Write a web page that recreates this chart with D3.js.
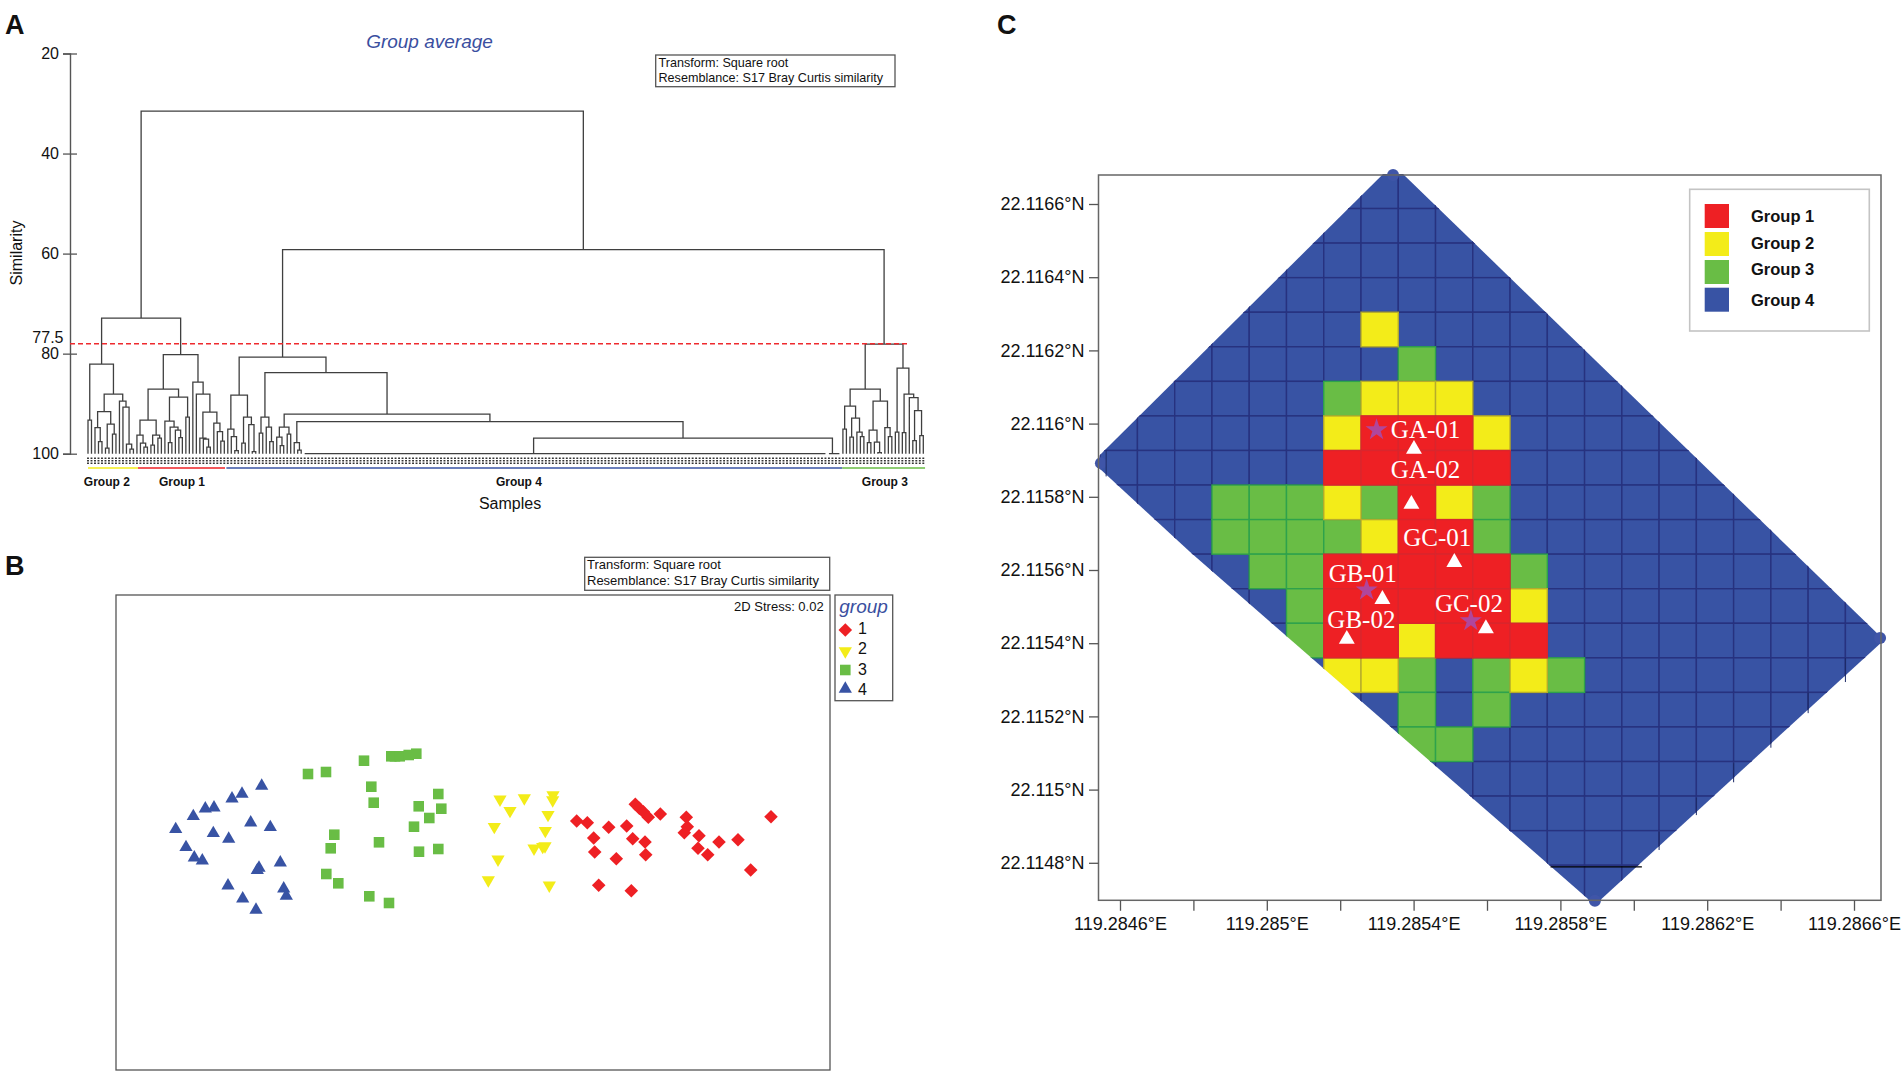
<!DOCTYPE html>
<html>
<head>
    <meta charset="utf-8" />
    <title>Similarity groups</title>
    <style>
    body { margin: 0; background: #fff; }
    text { font-family: "Liberation Sans", Arial, sans-serif; fill: #111; }
    </style>
</head>
<body>
<script src="https://d3js.org/d3.v7.min.js"></script>
<script>
    // dendrogram: [similarity, left, right], a number is that many identical samples
    var group2Tree = [82.1,
        [93.3, 1, 1],
        [88.1,
            [91.6, [94.8, 1, [97.6, 1, 1]], [94.1, [98.9, 1, 1], [96.1, 1, 1]]],
            [89.5, 1, [90.7, 1, [98.1, 1, [99.1, 1, 1]]]]]];
    var group1Tree = [80.2,
        [87.1,
            [93.3,
                [96.3, 1, [97.9, 1, [98.7, 1, 1]]],
                [96.3, [98.3, 1, 1], [96.9, 1, 1]]],
            [88.7,
                [93.5, 1, [94.7, [97.8, 1, 1], [95.3, 1, [96.8, 1, 1]]]],
                [92.7, 1, 1]]],
        [85.7, 1,
            [88.1, 1,
                [91.7,
                    [96.9, 1, [97.1, 1, [98.7, 1, 1]]],
                    [93.9, 1, [95.6, 1, [97.5, 1, 1]]]]]]];
    var group4Tree = [80.7,
        [88.3,
            [95.1, 1, [96.6, 1, [99.4, 1, 1]]],
            [92.7, [97.9, 1, 1], [94.2, 1, [99.6, 1, 1]]]],
        [83.8,
            [92.7, [95.9, 1, 1], [94.7, 1, [97.6, 1, 1]]],
            [92.1,
                [94.7, [96.7, 1, [98.4, 1, 1]], [96.1, 1, 1]],
                [93.6,
                    [97.8, 1, [99.3, 1, 1]],
                    [96.9, [100, 57, 93], [100, 1, 3]]]]]];
    var group3Tree = [78.1,
        [87.1,
            [90.5,
                [95.1, 1, 1],
                [92.9, [96.7, 1, 1], [95.7, 1, [96.6, 1, 1]]]],
            [89.5,
                [95.3, [97.8, 1, 1], [97.7, 1, [99.8, 1, 1]]],
                [94.8, 1, [96.6, 1, 1]]]],
        [82.9,
            [95.7, 1, 1],
            [88.1,
                [95.8, 1, 1],
                [88.8, 1, [91.4, [97.4, 1, 1], [96.4, 1, 1]]]]]];
    var rootTree = [31.5, [72.9, group2Tree, group1Tree], [59.2, group4Tree, group3Tree]];
    var similarityTicks = [20, 40, 60, 80, 100];
    var cutLevel = 78;
    var groupSpans = [
        {name: "Group 2", from: 0, to: 14.3, label: 5.4, color: "#f3ec19"},
        {name: "Group 1", from: 14.3, to: 39.2, label: 26.9, color: "#ee2024"},
        {name: "Group 4", from: 39.6, to: 215.8, label: 123.3, color: "#3853a4"},
        {name: "Group 3", from: 215.8, to: 239.5, label: 228, color: "#69bd45"}
    ];

    // nMDS points, in units
    var mds1 = [[460.7,226],[471.3,227.7],[492.7,232.3],[510.7,231],[519.3,209.3],[523.3,213.3],[527.3,216.7],
        [532.3,222.3],[544.3,219],[477.7,243],[516.7,243.7],[529,247],[478.7,257],[529.7,259.7],[500.3,263.7],
        [570.3,222.3],[571.3,231.7],[568.3,237.7],[583,240.7],[603,247],[622,244.7],[582,253.3],[591.7,259.7],
        [655,221.7],[634.7,275],[482.7,290.3],[515.3,295.7]];
    var mds2 = [[384,204.3],[408.3,203],[437,200],[436.7,205],[394,215.7],[432,219.7],[378.3,231.7],[429.3,235.7],
        [418,253.3],[426.7,251.7],[429,251],[382,264.3],[372.3,285],[433.3,290.3]];
    var mds3 = [[192,179],[210,177],[248,165.7],[275.3,161.3],[279,161.3],[283.7,161.3],[292.7,160],[300.3,158.7],
        [255.3,191.7],[257.7,207.7],[322.3,199],[302.7,211.3],[325.3,213.7],[313.3,223],[298,231.7],[218.3,239.7],
        [214.7,253.3],[263,247.3],[303,256.7],[322.3,254],[210.3,279],[222.3,288.3],[253.3,301.3],[273,308]];
    var mds4 = [[145.7,191],[126,199],[116,203.7],[98,212.7],[89.3,213.7],[77.3,221.3],[59.7,234.3],[134.7,227.7],
        [154.3,232.3],[97.3,238.3],[112.7,244],[70,252.3],[78.3,262.7],[86.3,265.7],[143,273],[141.3,275.3],
        [164.3,267.7],[112,290.7],[126.7,303.7],[140,315],[167.7,293.7],[170.3,301]];

    // map: one digit per cell, the group of that cell
    var mapRows = [
        "444444444444444444444",
        "444444444444444444444",
        "444444444444444444444",
        "444444444444444444444",
        "444444424444444444444",
        "444444443444444444444",
        "444444322244444444444",
        "444444211124444444444",
        "444444111114444444444",
        "444333231234444444444",
        "444333321134444444444",
        "444433111113444444444",
        "444443111112444444444",
        "444443112111444444444",
        "444444223432344444444",
        "444444443434444444444",
        "444444443344444444444",
        "444444444444444444444",
        "444444444444444444444",
        "444444444444444444444",
        "444444444444444444444",
        "444444444444444444444"
    ];
    var groupNames = ["Group 1", "Group 2", "Group 3", "Group 4"];
    var groupFills = ["#ee2024", "#f3ec19", "#69bd45", "#3853a4"];
    var groupStrokes = ["#d9262d", "#b5ac2c", "#2ea24c", "#27327f"];
    var latTicks = [22.1166, 22.1164, 22.1162, 22.116, 22.1158, 22.1156, 22.1154, 22.1152, 22.115, 22.1148];
    var lonTicks = [119.2846, 119.2848, 119.285, 119.2852, 119.2854, 119.2856, 119.2858, 119.286, 119.2862, 119.2864, 119.2866];
    var lonLabels = [119.2846, 119.285, 119.2854, 119.2858, 119.2862, 119.2866];
    var gridLon0 = 119.284546, gridLat0 = 22.116682, cellLon = 0.00010153, cellLat = 0.00009443;
    var surveyEdge = [[119.285317,22.116682],[119.285371,22.116682],[119.286682,22.115409],[119.285894,22.114685],
        [119.284791,22.115649],[119.284537,22.115884],[119.284537,22.115906]];
    var surveyCorners = [[119.285344,22.116679],[119.284548,22.115892],[119.286671,22.115414],[119.285894,22.114696]];
    var darkMarks = [[15,19.03,19.56],[16,18.05,18.55],[17,17.05,17.6],[18,16.08,16.6],[19,15,15.6],[20,14,14.7],[0.16,8,8.75]];
    var stars = [[119.285299,22.115983],[119.285272,22.115545],[119.285556,22.115461]];
    var stations = [[119.285401,22.11593],[119.285394,22.11578],[119.285511,22.115621],[119.285315,22.11552],
        [119.285218,22.115411],[119.285597,22.11544]];
    var stationNames = ["GA-01", "GA-02", "GC-01", "GB-01", "GB-02", "GC-02"];
    var stationLon = [119.285338, 119.285338, 119.285372, 119.285169, 119.285165, 119.285458];
    var stationLat = [22.115961, 22.115852, 22.115666, 22.115566, 22.115441, 22.115486];

    var svg = d3.select("body").append("svg")
        .attr("width", 1901)
        .attr("height", 1074)
        .style("display", "block");

    svg.selectAll("text.panel")
        .data([["A", 5, 34], ["B", 5, 575], ["C", 997, 34]])
        .enter().append("text")
        .attr("x", d => d[1])
        .attr("y", d => d[2])
        .style("font-size", "27px")
        .style("font-weight", "bold")
        .text(d => d[0]);

    // ---- A: dendrogram
    var simY = d3.scaleLinear().domain([20, 100]).range([53.5, 453.7]);
    var sampleCount = 240;
    var sampleX = d3.scaleLinear().domain([0, sampleCount - 1]).range([88, 923.3]);
    var a = svg.append("g");

    var nextSample = 0;
    var samples = [];
    var treePath = d3.path();

    function layout(node) {
        if (typeof node === "number") {
            var first = nextSample;
            nextSample += node;
            d3.range(first, nextSample).forEach(i => samples.push(i));
            var x0 = sampleX(first), x1 = sampleX(nextSample - 1);
            if (node > 1) {
                treePath.moveTo(x0, simY(100));
                treePath.lineTo(x1, simY(100));
            }
            return {x: (x0 + x1) / 2, y: simY(100)};
        }
        var left = layout(node[1]);
        var right = layout(node[2]);
        var y = simY(node[0]);
        treePath.moveTo(left.x, left.y);
        treePath.lineTo(left.x, y);
        treePath.lineTo(right.x, y);
        treePath.lineTo(right.x, right.y);
        return {x: (left.x + right.x) / 2, y: y};
    }
    layout(rootTree);

    a.append("path")
        .attr("d", treePath.toString())
        .attr("fill", "none")
        .attr("stroke", "#3f3f3f")
        .attr("stroke-width", 1.3);

    // unreadably small sample names under the leaves
    a.append("g").selectAll("line")
        .data(samples)
        .enter().append("line")
        .attr("x1", d => sampleX(d))
        .attr("x2", d => sampleX(d))
        .attr("y1", 457.5)
        .attr("y2", 465)
        .attr("stroke", "#333")
        .attr("stroke-width", 1.9)
        .attr("stroke-dasharray", "1.5 1");

    var simAxis = a.append("g")
        .attr("transform", "translate(70,0)")
        .call(d3.axisLeft(simY).tickValues(similarityTicks).tickSize(7).tickPadding(4));
    simAxis.select(".domain").attr("stroke", "#555").attr("stroke-width", 1.4);
    simAxis.selectAll("line").attr("x2", 7).attr("x1", -7).attr("stroke", "#555").attr("stroke-width", 1.3);
    simAxis.selectAll("text").style("font-size", "16px").style("font-family", "Liberation Sans").attr("fill", "#111");

    a.append("line")
        .attr("x1", 70).attr("x2", 907)
        .attr("y1", simY(cutLevel)).attr("y2", simY(cutLevel))
        .attr("stroke", "#ee2a2e")
        .attr("stroke-width", 1.5)
        .attr("stroke-dasharray", "5 3");
    a.append("text")
        .attr("x", 63.5)
        .attr("y", simY(cutLevel) - 0.5)
        .attr("text-anchor", "end")
        .style("font-size", "16px")
        .text("77.5");

    a.selectAll("line.span")
        .data(groupSpans)
        .enter().append("line")
        .attr("x1", d => sampleX(d.from))
        .attr("x2", d => sampleX(d.to))
        .attr("y1", 468)
        .attr("y2", 468)
        .attr("stroke", d => d.color)
        .attr("stroke-width", 1.6);
    a.selectAll("text.span")
        .data(groupSpans)
        .enter().append("text")
        .attr("x", d => sampleX(d.label))
        .attr("y", 486)
        .attr("text-anchor", "middle")
        .style("font-size", "12px")
        .style("font-weight", "bold")
        .text(d => d.name);

    a.append("text").attr("x", 510).attr("y", 509).attr("text-anchor", "middle")
        .style("font-size", "16px").text("Samples");
    a.append("text").attr("transform", "translate(22,253) rotate(-90)").attr("text-anchor", "middle")
        .style("font-size", "16px").text("Similarity");
    a.append("text").attr("x", 429.5).attr("y", 48).attr("text-anchor", "middle")
        .style("font-size", "19px").style("font-style", "italic").style("fill", "#3a4fa0").text("Group average");

    function noteBox(x, y, w, h, fontSize, tx, y1, y2) {
        svg.append("rect").attr("x", x).attr("y", y).attr("width", w).attr("height", h)
            .attr("fill", "#fff").attr("stroke", "#555").attr("stroke-width", 1.3);
        svg.append("text").attr("x", tx).attr("y", y1).style("font-size", fontSize + "px").text("Transform: Square root");
        svg.append("text").attr("x", tx).attr("y", y2).style("font-size", fontSize + "px").text("Resemblance: S17 Bray Curtis similarity");
    }
    noteBox(655.7, 55, 239.3, 31.7, 12.6, 658.5, 66.7, 82.3);

    // ---- B: nMDS
    var mdsX = d3.scaleLinear().domain([0, 714]).range([116, 830]);
    var mdsY = d3.scaleLinear().domain([0, 475]).range([595, 1070]);
    svg.append("rect").attr("x", 116).attr("y", 595).attr("width", 714).attr("height", 475)
        .attr("fill", "none").attr("stroke", "#555").attr("stroke-width", 1.3);
    noteBox(584.7, 557.3, 245, 33, 13, 587, 569.3, 585.3);
    svg.append("text").attr("x", 823.7).attr("y", 610.7).attr("text-anchor", "end")
        .style("font-size", "13px").text("2D Stress: 0.02");

    var diamond = d3.symbol().type(d3.symbolSquare).size(92)();
    var triangle = d3.symbol().type(d3.symbolTriangle).size(76)();
    var square = d3.symbol().type(d3.symbolSquare).size(112)();
    var mdsSets = [
        {points: mds4, path: triangle, rotate: 0, fill: groupFills[3]},
        {points: mds3, path: square, rotate: 0, fill: groupFills[2]},
        {points: mds2, path: triangle, rotate: 180, fill: groupFills[1]},
        {points: mds1, path: diamond, rotate: 45, fill: groupFills[0]}
    ];
    mdsSets.forEach(function(set) {
        svg.append("g").selectAll("path")
            .data(set.points)
            .enter().append("path")
            .attr("d", set.path)
            .attr("fill", set.fill)
            .attr("transform", d => "translate(" + mdsX(d[0]) + "," + mdsY(d[1]) + ") rotate(" + set.rotate + ")");
    });

    svg.append("rect").attr("x", 835).attr("y", 595).attr("width", 57.7).attr("height", 105.7)
        .attr("fill", "#fff").attr("stroke", "#555").attr("stroke-width", 1.3);
    svg.append("text").attr("x", 839.3).attr("y", 612.7)
        .style("font-size", "19px").style("font-style", "italic").style("fill", "#3a4fa0").text("group");
    var keyY = [630, 651, 670, 689];
    var keyTextY = [634, 654, 674.7, 694.7];
    mdsSets.slice().reverse().forEach(function(set, i) {
        svg.append("path").attr("d", set.path).attr("fill", set.fill)
            .attr("transform", "translate(845.3," + keyY[i] + ") rotate(" + set.rotate + ")");
        svg.append("text").attr("x", 858).attr("y", keyTextY[i]).style("font-size", "16px").text(i + 1);
    });

    // ---- C: map
    var lonX = d3.scaleLinear().domain([119.2846, 119.2866]).range([1120, 1854]);
    var latY = d3.scaleLinear().domain([22.1148, 22.1166]).range([862.8, 204]);
    var m = svg.append("g");

    var cells = [];
    mapRows.forEach(function(row, j) {
        row.split("").forEach(function(g, k) {
            cells.push({row: j, col: k, group: +g});
        });
    });
    cells.sort((p, q) => q.group - p.group);

    svg.append("clipPath").attr("id", "survey")
        .append("polygon")
        .attr("points", surveyEdge.map(d => lonX(d[0]) + "," + latY(d[1])).join(" "));

    m.append("g").attr("clip-path", "url(#survey)").selectAll("rect")
        .data(cells)
        .enter().append("rect")
        .attr("x", d => lonX(gridLon0 + d.col * cellLon))
        .attr("y", d => latY(gridLat0 - d.row * cellLat))
        .attr("width", lonX(gridLon0 + cellLon) - lonX(gridLon0))
        .attr("height", latY(gridLat0 - cellLat) - latY(gridLat0))
        .attr("fill", d => groupFills[d.group - 1])
        .attr("stroke", d => groupStrokes[d.group - 1])
        .attr("stroke-width", 1.4);

    m.append("g").selectAll("circle")
        .data(surveyCorners)
        .enter().append("circle")
        .attr("cx", d => lonX(d[0]))
        .attr("cy", d => latY(d[1]))
        .attr("r", 6)
        .attr("fill", "#3f55a8");

    m.append("g").selectAll("line")
        .data(darkMarks)
        .enter().append("line")
        .attr("x1", d => lonX(gridLon0 + d[0] * cellLon))
        .attr("x2", d => lonX(gridLon0 + d[0] * cellLon))
        .attr("y1", d => latY(gridLat0 - d[1] * cellLat))
        .attr("y2", d => latY(gridLat0 - d[2] * cellLat))
        .attr("stroke", "#1d2a66")
        .attr("stroke-width", 1);
    m.append("line")
        .attr("x1", lonX(119.285773)).attr("x2", lonX(119.286022))
        .attr("y1", latY(22.114789)).attr("y2", latY(22.114789))
        .attr("stroke", "#000").attr("stroke-width", 1.2);

    m.append("rect").attr("x", 1098.5).attr("y", 175).attr("width", 782.5).attr("height", 725.3)
        .attr("fill", "none").attr("stroke", "#666").attr("stroke-width", 1.5);

    var latAxis = m.append("g").attr("transform", "translate(1098.5,0)")
        .call(d3.axisLeft(latY).tickValues(latTicks).tickSize(9.5).tickPadding(4.5).tickFormat(d => d + "°N"));
    var lonAxis = m.append("g").attr("transform", "translate(0,900.3)")
        .call(d3.axisBottom(lonX).tickValues(lonTicks).tickSize(10.5).tickPadding(6)
            .tickFormat(d => lonLabels.indexOf(d) >= 0 ? d + "°E" : ""));
    [latAxis, lonAxis].forEach(function(ax) {
        ax.select(".domain").remove();
        ax.selectAll("line").attr("stroke", "#555").attr("stroke-width", 1.3);
        ax.selectAll("text").style("font-size", "18px").style("font-family", "Liberation Sans").attr("fill", "#111");
    });

    m.append("g").selectAll("path")
        .data(stars)
        .enter().append("path")
        .attr("d", d3.symbol().type(d3.symbolStar).size(150)())
        .attr("fill", "#b0469c")
        .attr("transform", d => "translate(" + lonX(d[0]) + "," + latY(d[1]) + ")");
    m.append("g").selectAll("path")
        .data(stations)
        .enter().append("path")
        .attr("d", d3.symbol().type(d3.symbolTriangle).size(110)())
        .attr("fill", "#fff")
        .attr("transform", d => "translate(" + lonX(d[0]) + "," + latY(d[1]) + ")");
    m.append("g").selectAll("text")
        .data(stationNames)
        .enter().append("text")
        .attr("x", (d, i) => lonX(stationLon[i]))
        .attr("y", (d, i) => latY(stationLat[i]))
        .style("font-family", "Liberation Serif")
        .style("font-size", "25px")
        .style("fill", "#fff")
        .text(d => d);

    m.append("rect").attr("x", 1689.7).attr("y", 189.3).attr("width", 179.6).attr("height", 141.7)
        .attr("fill", "#fff").attr("stroke", "#c4c4c4").attr("stroke-width", 1.6);
    var swatchY = [204, 232, 260, 287.7];
    var swatchText = [216, 242.7, 269.3, 299.7];
    m.append("g").selectAll("rect")
        .data(groupNames)
        .enter().append("rect")
        .attr("x", 1704.7)
        .attr("y", (d, i) => swatchY[i])
        .attr("width", 24.3)
        .attr("height", 24)
        .attr("fill", (d, i) => groupFills[i]);
    m.append("g").selectAll("text")
        .data(groupNames)
        .enter().append("text")
        .attr("x", 1751)
        .attr("y", (d, i) => swatchText[i] + 6)
        .style("font-size", "16.5px")
        .style("font-weight", "bold")
        .text(d => d);
</script>
</body>
</html>
